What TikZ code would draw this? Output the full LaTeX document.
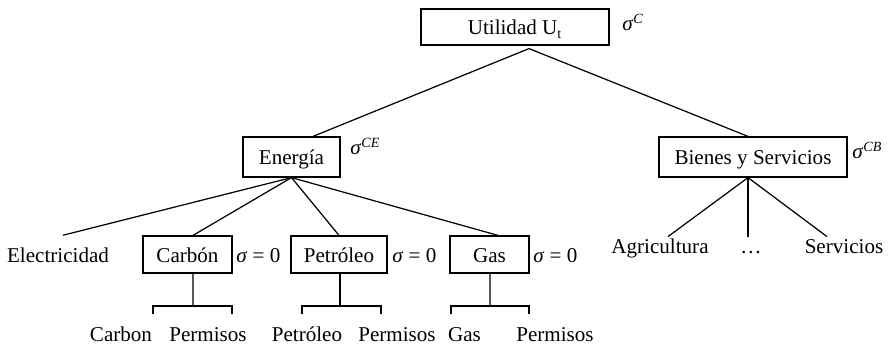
\documentclass[tikz,border=0pt]{standalone}
\usepackage{fontspec}
\setmainfont{Liberation Serif}
\usepackage{tikz}
\usetikzlibrary{calc}
\newcommand{\sgm}{\textit{σ}}
\tikzset{
  box/.style={rectangle, draw, inner sep=0pt, line width=0.7pt,
    font=\fontsize{12}{14}\selectfont, text height=10pt, text depth=1pt},
  leaf/.style={anchor=base, inner xsep=0pt, inner ysep=7.6pt,
    font=\fontsize{12}{14}\selectfont, text height=8pt, text depth=2pt},
  sector/.style={leaf, inner ysep=1.7pt},
  sig/.style={anchor=base west, inner sep=0pt, font=\fontsize{12}{14}\selectfont},
  line/.style={line width=0.7pt}
}
\begin{document}
\begin{tikzpicture}[x=0.02cm, y=-0.02cm]
  \useasboundingbox (0,0) rectangle (889,347);

  % Top level: utility
  \node[box, minimum width=3.76cm, minimum height=0.72cm] (util) at (515,27) {Utilidad U\textsubscript{t}};
  \node[sig] (sc) at (622,31) {\sgm\textsuperscript{\textit{C}}};
  \coordinate (utop) at ([shift={(14,3)}]util.south);

  % Second level
  \node[box, minimum width=1.94cm, minimum height=0.8cm] (ene) at (291.5,157) {Energía};
  \node[sig] (sce) at (350,155) {\sgm\textsuperscript{\textit{CE}}};
  \node[box, minimum width=3.76cm, minimum height=0.8cm] (bys) at (753,157) {Bienes y Servicios};
  \node[sig] (scb) at (852,159) {\sgm\textsuperscript{\textit{CB}}};
  \draw[line] ([shift={(21.5,0)}]ene.north) -- (utop) -- ([shift={(-5,0)}]bys.north);

  % Energy nest
  \node[leaf] (elec) at (58,263) {Electricidad};
  \node[box, minimum width=1.78cm, minimum height=0.74cm] (car) at (187.5,254.5) {Carbón};
  \node[sig] (s1) at (236,263) {\sgm{} = 0};
  \node[box, minimum width=1.92cm, minimum height=0.74cm] (pet) at (339,254.5) {Petróleo};
  \node[sig] (s2) at (392,263) {\sgm{} = 0};
  \node[box, minimum width=1.58cm, minimum height=0.74cm] (gas) at (489.5,254.5) {Gas};
  \node[sig] (s3) at (533,263) {\sgm{} = 0};
  \draw[line] ([shift={(5,0)}]elec.north) -- (ene.south);
  \draw[line] ([shift={(5.5,0)}]car.north) -- (ene.south);
  \draw[line] (pet.north) -- (ene.south);
  \draw[line] ([shift={(8.5,0)}]gas.north) -- (ene.south);

  % Goods and services nest
  \node[sector] (agr) at (660,254) {Agricultura};
  \node[sector] (dots) at (751,254) {\ldots};
  \node[sector] (serv) at (844,254) {Servicios};
  \draw[line] ([shift={(8,0)}]agr.north) -- ([shift={(-5,0)}]bys.south);
  \draw[line] ([shift={(-3,0)}]dots.north) -- ([shift={(-5,0)}]bys.south);
  \draw[line] ([shift={(-17,0)}]serv.north) -- ([shift={(-5,0)}]bys.south);

  % Fuel and permits
  \node[leaf] (c1) at (121,342) {Carbon};
  \node[leaf] (c2) at (208,342) {Permisos};
  \node[leaf] (p1) at (307,342) {Petróleo};
  \node[leaf] (p2) at (397,342) {Permisos};
  \node[leaf] (g1) at (464.5,342) {Gas};
  \node[leaf] (g2) at (555,342) {Permisos};
  \coordinate (cj) at (193,306);
  \coordinate (pj) at (340,306);
  \coordinate (gj) at (490,306);
  \draw[line] ([shift={(5.5,0)}]car.south) -- (cj);
  \draw[line] ([shift={(32,0)}]c1.north) |- (cj) -| ([shift={(24,0)}]c2.north);
  \draw[line] ([shift={(1,0)}]pet.south) -- (pj);
  \draw[line] ([shift={(-5,0)}]p1.north) |- (pj) -| ([shift={(-16,0)}]p2.north);
  \draw[line] ([shift={(0.5,0)}]gas.south) -- (gj);
  \draw[line] ([shift={(-13.5,0)}]g1.north) |- (gj) -| ([shift={(-26,0)}]g2.north);
\end{tikzpicture}
\end{document}
